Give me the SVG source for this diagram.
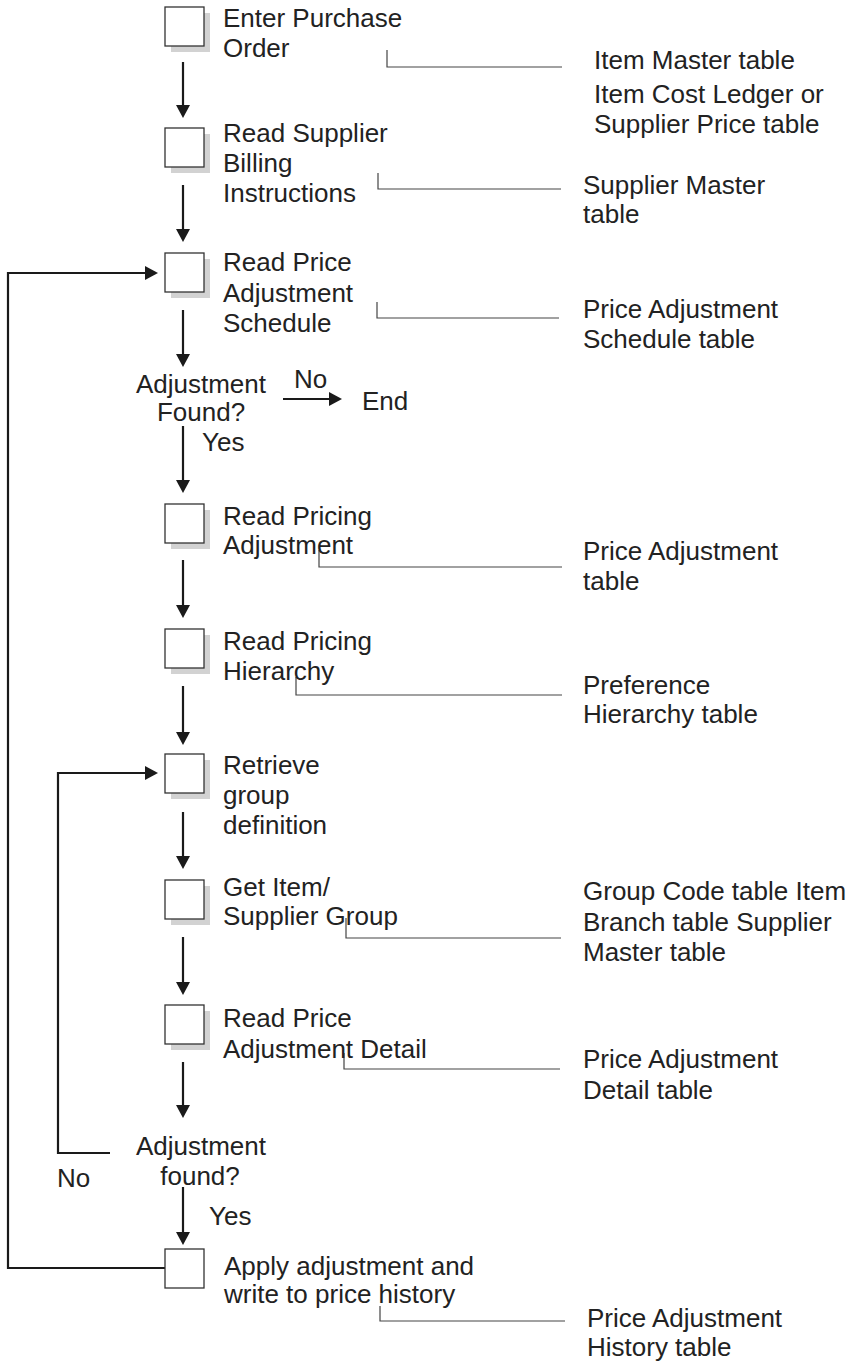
<svg xmlns="http://www.w3.org/2000/svg" width="853" height="1363" viewBox="0 0 853 1363">
<style>
text{font-family:"Liberation Sans",Arial,sans-serif;font-size:26px;fill:#222}
.box{fill:#fff;stroke:#333;stroke-width:1.3}
.shadow{fill:#d2d2d2}
.flow{fill:none;stroke:#1a1a1a;stroke-width:2.2}
.link{fill:none;stroke:#444;stroke-width:1.2}
.mid{text-anchor:middle}
</style>
<defs>
<marker id="ah" markerUnits="userSpaceOnUse" markerWidth="14" markerHeight="14" refX="3" refY="7" orient="auto">
<path d="M0,0 L13,7 L0,14 z" fill="#1a1a1a"/>
</marker>
</defs>
<rect width="853" height="1363" fill="#fff"/>

<g id="connectors">
<line class="flow" x1="183" y1="62" x2="183" y2="108" marker-end="url(#ah)"/>
<line class="flow" x1="183" y1="185" x2="183" y2="232" marker-end="url(#ah)"/>
<line class="flow" x1="183" y1="310" x2="183" y2="357" marker-end="url(#ah)"/>
<line class="flow" x1="183" y1="426" x2="183" y2="483" marker-end="url(#ah)"/>
<line class="flow" x1="183" y1="560" x2="183" y2="608" marker-end="url(#ah)"/>
<line class="flow" x1="183" y1="686" x2="183" y2="735" marker-end="url(#ah)"/>
<line class="flow" x1="183" y1="812" x2="183" y2="859" marker-end="url(#ah)"/>
<line class="flow" x1="183" y1="937" x2="183" y2="985" marker-end="url(#ah)"/>
<line class="flow" x1="183" y1="1062" x2="183" y2="1108" marker-end="url(#ah)"/>
<line class="flow" x1="183" y1="1187" x2="183" y2="1235" marker-end="url(#ah)"/>
<line class="flow" x1="283" y1="399" x2="332" y2="399" marker-end="url(#ah)"/>
<polyline class="flow" points="165,1268 8,1268 8,273 148,273" marker-end="url(#ah)"/>
<polyline class="flow" points="110,1153 58,1153 58,773 148,773" marker-end="url(#ah)"/>
<polyline class="link" points="387,50 387,67 562,67"/>
<polyline class="link" points="378,173 378,189 561,189"/>
<polyline class="link" points="377,302 377,318 559,318"/>
<polyline class="link" points="319,550 319,567 562,567"/>
<polyline class="link" points="296,677 296,695 562,695"/>
<polyline class="link" points="346,918 346,938 561,938"/>
<polyline class="link" points="344,1053 344,1069 560,1069"/>
<polyline class="link" points="380,1306 380,1321 565,1321"/>
<text x="294" y="388">No</text>
<text x="202" y="451">Yes</text>
<text x="57" y="1187">No</text>
<text x="209" y="1225">Yes</text>
</g>

<g id="n1"><rect class="shadow" x="171" y="13" width="39" height="39"/><rect class="box" x="165" y="7" width="39" height="39"/>
<text x="223" y="27">Enter Purchase</text><text x="223" y="57">Order</text></g>
<g id="n2"><rect class="shadow" x="171" y="134" width="39" height="39"/><rect class="box" x="165" y="128" width="39" height="39"/>
<text x="223" y="142">Read Supplier</text><text x="223" y="172">Billing</text><text x="223" y="202">Instructions</text></g>
<g id="n3"><rect class="shadow" x="171" y="259" width="39" height="39"/><rect class="box" x="165" y="253" width="39" height="39"/>
<text x="223" y="271">Read Price</text><text x="223" y="302">Adjustment</text><text x="223" y="332">Schedule</text></g>
<g id="d1"><text class="mid" x="201" y="393">Adjustment</text><text class="mid" x="201" y="421">Found?</text></g>
<g id="end"><text x="362" y="410">End</text></g>
<g id="n4"><rect class="shadow" x="171" y="510" width="39" height="39"/><rect class="box" x="165" y="504" width="39" height="39"/>
<text x="223" y="525">Read Pricing</text><text x="223" y="554">Adjustment</text></g>
<g id="n5"><rect class="shadow" x="171" y="635" width="39" height="39"/><rect class="box" x="165" y="629" width="39" height="39"/>
<text x="223" y="650">Read Pricing</text><text x="223" y="680">Hierarchy</text></g>
<g id="n6"><rect class="shadow" x="171" y="760" width="39" height="39"/><rect class="box" x="165" y="754" width="39" height="39"/>
<text x="223" y="774">Retrieve</text><text x="223" y="804">group</text><text x="223" y="834">definition</text></g>
<g id="n7"><rect class="shadow" x="171" y="886" width="39" height="39"/><rect class="box" x="165" y="880" width="39" height="39"/>
<text x="223" y="896">Get Item/</text><text x="223" y="925">Supplier Group</text></g>
<g id="n8"><rect class="shadow" x="171" y="1011" width="39" height="39"/><rect class="box" x="165" y="1005" width="39" height="39"/>
<text x="223" y="1027">Read Price</text><text x="223" y="1058">Adjustment Detail</text></g>
<g id="d2"><text class="mid" x="201" y="1155">Adjustment</text><text class="mid" x="200" y="1185">found?</text></g>
<g id="n9"><rect class="box" x="165" y="1249" width="39" height="39"/>
<text x="224" y="1275">Apply adjustment and</text><text x="224" y="1303">write to price history</text></g>

<g id="t1"><text x="594" y="69">Item Master table</text><text x="594" y="103">Item Cost Ledger or</text><text x="594" y="133">Supplier Price table</text></g>
<g id="t2"><text x="583" y="194">Supplier Master</text><text x="583" y="223">table</text></g>
<g id="t3"><text x="583" y="318">Price Adjustment</text><text x="583" y="348">Schedule table</text></g>
<g id="t4"><text x="583" y="560">Price Adjustment</text><text x="583" y="590">table</text></g>
<g id="t5"><text x="583" y="694">Preference</text><text x="583" y="723">Hierarchy table</text></g>
<g id="t6"><text x="583" y="900">Group Code table Item</text><text x="583" y="931">Branch table Supplier</text><text x="583" y="961">Master table</text></g>
<g id="t7"><text x="583" y="1068">Price Adjustment</text><text x="583" y="1099">Detail table</text></g>
<g id="t8"><text x="587" y="1327">Price Adjustment</text><text x="587" y="1356">History table</text></g>
</svg>
